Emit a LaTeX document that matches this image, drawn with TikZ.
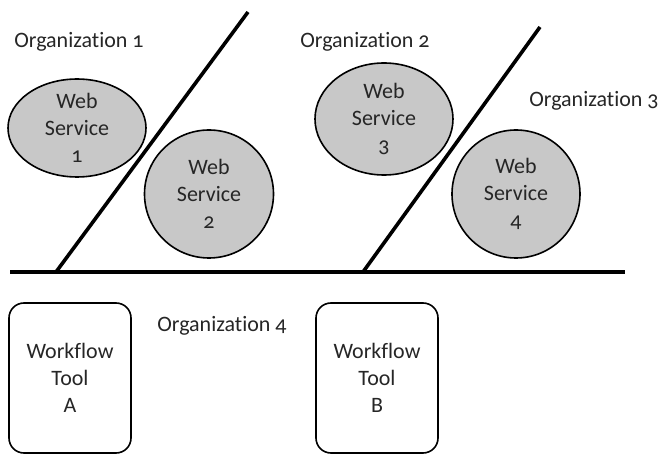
\documentclass[tikz,border=0pt]{standalone}
\usepackage{fontspec}
\setmainfont{Carlito}[Numbers=OldStyle, Ligatures=NoCommon]
\usetikzlibrary{positioning,shapes.geometric}
\definecolor{servicegrey}{RGB}{200,200,200}
\tikzset{
  base/.style={font=\fontsize{22}{27}\selectfont, align=center, inner sep=0pt, text=black!85},
  service/.style={base, ellipse, draw=black, fill=servicegrey, line width=1.6pt},
  tool/.style={base, rectangle, rounded corners=15pt, draw=black, line width=1.6pt, minimum width=122pt, minimum height=150pt},
  orglabel/.style={base},
  divider/.style={line width=3.6pt, draw=black},
}
\begin{document}
\begin{tikzpicture}[x=1pt,y=-1pt]
  \useasboundingbox (0,0) rectangle (667,454);
  % borders between the organisations
  \coordinate (floorW) at (10,272);
  \coordinate (floorE) at (625,272);
  \coordinate (cutA) at (56,272);
  \coordinate (cutAtop) at (248,12);
  \coordinate (cutB) at (363,272);
  \coordinate (cutBtop) at (540,27);
  \draw[divider] (floorW) -- (floorE);
  \draw[divider] (cutA) -- (cutAtop);
  \draw[divider] (cutB) -- (cutBtop);
  % web services
  \foreach \i/\x/\y/\w/\h in {1/77/128/138/93, 2/209/194/129/128, 3/384/119/138/112, 4/516/194/128/128}{
    \node[service, minimum width=\w pt, minimum height=\h pt] (ws\i) at (\x,\y) {Web\\Service\\\i};
  }
  % organisation labels
  \node[orglabel] (org1) at (79,42) {Organization 1};
  \node[orglabel] (org2) at (365,42) {Organization 2};
  \node[orglabel] (org3) at (594,101) {Organization 3};
  \node[orglabel] (org4) at (222,326) {Organization 4};
  % workflow tools
  \node[tool] (toolA) at (70,378) {Workflow\\Tool\\A};
  \node[tool] (toolB) at (377,378) {Workflow\\Tool\\B};
\end{tikzpicture}
\end{document}
